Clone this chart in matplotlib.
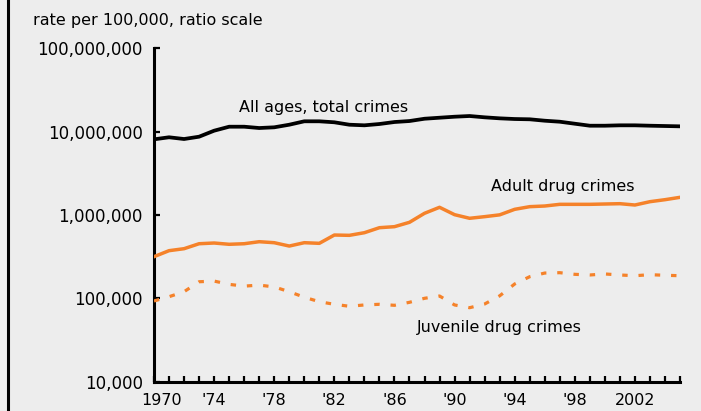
import matplotlib
matplotlib.use("Agg")
import matplotlib.pyplot as plt
import matplotlib.transforms as mtransforms
from matplotlib.lines import Line2D
from matplotlib.ticker import FixedLocator, NullLocator, NullFormatter

# years 1970 - 2005
years = list(range(1970, 2006))

# all ages, total crimes
total_crimes = [8.1e6, 8.57e6, 8.17e6, 8.71e6, 10.28e6, 11.48e6, 11.48e6, 11.07e6, 11.29e6, 12.13e6,
                13.33e6, 13.33e6, 12.97e6, 12.13e6, 11.93e6, 12.37e6, 13.07e6, 13.43e6, 14.31e6, 14.72e6,
                15.13e6, 15.43e6, 14.88e6, 14.47e6, 14.2e6, 14.09e6, 13.55e6, 13.18e6, 12.47e6, 11.8e6,
                11.8e6, 11.93e6, 11.93e6, 11.8e6, 11.7e6, 11.6e6]

# adult drug crimes
adult_drug = [316e3, 373e3, 394e3, 452e3, 461e3, 445e3, 452e3, 478e3, 465e3, 424e3,
              465e3, 457e3, 575e3, 570e3, 613e3, 704e3, 724e3, 817e3, 1.048e6, 1.237e6,
              1.009e6, 913e3, 955e3, 1.004e6, 1.17e6, 1.259e6, 1.282e6, 1.343e6, 1.343e6, 1.343e6,
              1.355e6, 1.367e6, 1.318e6, 1.445e6, 1.527e6, 1.63e6]

# juvenile drug crimes
juvenile_drug = [92.8e3, 104.5e3, 120e3, 158e3, 161e3, 147e3, 140e3, 144e3, 137e3, 120e3,
                 103e3, 91e3, 84.7e3, 80.2e3, 83.2e3, 84.7e3, 82.4e3, 89.5e3, 100e3, 106.6e3,
                 83.2e3, 77.1e3, 85.4e3, 107e3, 148.6e3, 181.7e3, 201e3, 203e3, 194e3, 190.5e3,
                 196e3, 190.5e3, 186.7e3, 192e3, 189e3, 186.7e3]

x_major = [1970, 1974, 1978, 1982, 1986, 1990, 1994, 1998, 2002]
x_labels = ["1970", "'74", "'78", "'82", "'86", "'90", "'94", "'98", "2002"]
y_major = [1e4, 1e5, 1e6, 1e7, 1e8]
y_labels = ["10,000", "100,000", "1,000,000", "10,000,000", "100,000,000"]

bg = "#ededed"
orange = "#f5822a"

fig = plt.figure(figsize=(7.01, 4.11), dpi=100)
fig.patch.set_facecolor(bg)
ax = fig.add_axes([154 / 701, 29.4 / 411, 526 / 701, 333.2 / 411])
ax.set_facecolor(bg)

ax.plot(years, total_crimes, color="black", lw=2.7, solid_joinstyle="round", zorder=3)
ax.plot(years, adult_drug, color=orange, lw=2.5, solid_joinstyle="round", zorder=3)
ax.plot(years, juvenile_drug, color=orange, lw=2.3, linestyle=(0, (1.7, 3.4)),
        dash_capstyle="butt", zorder=3)

ax.set_yscale("log")
ax.set_ylim(1e4, 1e8)
ax.set_xlim(1970, 2005)

ax.yaxis.set_major_locator(FixedLocator(y_major))
ax.yaxis.set_minor_locator(NullLocator())
ax.yaxis.set_minor_formatter(NullFormatter())
ax.set_yticklabels(y_labels)
ax.xaxis.set_major_locator(FixedLocator(x_major))
ax.xaxis.set_minor_locator(FixedLocator([y for y in years if y not in x_major]))
ax.set_xticklabels(x_labels)

for s in ["top", "right"]:
    ax.spines[s].set_visible(False)
for s in ["left", "bottom"]:
    ax.spines[s].set_linewidth(2.2)

ax.tick_params(axis="x", which="both", direction="in", length=4.5, width=1.6, labelsize=11.5, pad=8)
ax.tick_params(axis="y", which="both", direction="in", length=4, width=1.6, labelsize=12, pad=8)

# nudge the first year label right, like the original
first = ax.get_xticklabels()[0]
first.set_transform(first.get_transform() + mtransforms.ScaledTranslation(8 / 100, 0, fig.dpi_scale_trans))

# line labels
ax.text(1981.3, 1.72e7, "All ages, total crimes", ha="center", va="baseline", fontsize=11.5)
ax.text(1997.2, 1.94e6, "Adult drug crimes", ha="center", va="baseline", fontsize=11.5)
ax.text(1993.0, 3.94e4, "Juvenile drug crimes", ha="center", va="baseline", fontsize=11.5)

fig.text(33 / 701, 1 - 20 / 411, "rate per 100,000, ratio scale", ha="left", va="center", fontsize=11.5)

# left frame line
fig.add_artist(Line2D([8 / 701, 8 / 701], [0, 1], transform=fig.transFigure, color="black", lw=2.2))

fig.savefig("out.png", dpi=100, facecolor=bg)
